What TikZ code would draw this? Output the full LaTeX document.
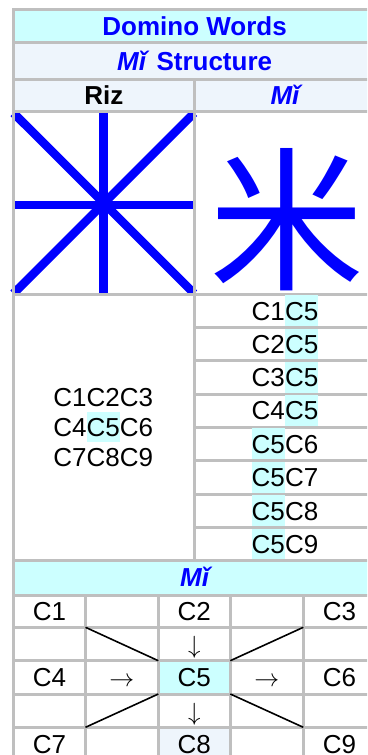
\documentclass[tikz,border=0pt]{standalone}
\usepackage{fontspec}
\setmainfont{Liberation Sans}
\newfontfamily\cjkfont{Noto Sans CJK SC}
\definecolor{cyanbg}{HTML}{CCFFFF}
\definecolor{lightbg}{HTML}{EEF5FC}
\definecolor{gridgray}{HTML}{BFBFBF}
\newcommand\cellstrut{\rule[-6pt]{0pt}{30.6pt}}
\newcommand\hlcyan[1]{{\setlength{\fboxsep}{0pt}\colorbox{cyanbg}{\cellstrut#1}}}
\begin{document}
\begin{tikzpicture}[x=1pt,y=-1pt,
  gridline/.style={draw=gridgray, line width=3pt},
  cell/.style={inner sep=0pt, font=\fontsize{26}{30}\selectfont},
  titlecell/.style={inner sep=0pt, font=\fontsize{26}{30}\selectfont\bfseries, text=blue},
  starline/.style={draw=blue, line width=8.5pt},
  diagline/.style={draw=black, line width=1.6pt},
]
\useasboundingbox (0,0) rectangle (367,755);
\clip (0,0) rectangle (367,755);
\fill[white] (0,0) rectangle (367,755);
% backgrounds
\fill[cyanbg] (13.5,9.5) rectangle (375.8,42.5);
\fill[lightbg] (13.5,42.5) rectangle (375.8,111.5);
\fill[cyanbg] (13.5,560) rectangle (375.8,595);
\fill[cyanbg] (158.3,660.7) rectangle (230.3,694);
\fill[lightbg] (158.3,727.3) rectangle (230.3,760.7);
% star
\begin{scope}
\clip (10,111.5) rectangle (197.5,295);
\draw[starline] (13.5,113) -- (194.2,293.5);
\draw[starline] (194.2,113) -- (13.5,293.5);
\draw[starline] (103.5,113) -- (103.5,293.5);
\draw[starline] (14,205) -- (193,205);
\end{scope}
% glyph
\node[inner sep=0pt, anchor=base, text=blue, font=\cjkfont\fontsize{155}{155}\selectfont] (glyph) at (286.5,278.5) {米};
% grid lines
\foreach \y in {9.5,42.5,79.5,111.5,294,560,595,627.3,660.7,694,727.3,760.7}
  \draw[gridline] (12,\y) -- (377.3,\y);
\foreach \y in {327.5,360.7,394,427,460.5,494,527.5}
  \draw[gridline] (194.2,\y) -- (377.3,\y);
\draw[gridline] (13.5,8) -- (13.5,762);
\draw[gridline] (375.8,8) -- (375.8,762);
\draw[gridline] (194.2,79.5) -- (194.2,560);
\foreach \x in {85.5,158.3,230.3,303.3}
  \draw[gridline] (\x,595) -- (\x,762);
% header texts
\node[titlecell] (title) at (194.6,26) {\cellstrut Domino Words};
\node[titlecell] (subtitle) at (194.6,61) {\cellstrut\textit{Mǐ} Structure};
\node[titlecell, text=black] (hdrriz) at (103.9,95.5) {\cellstrut Riz};
\node[titlecell, font=\fontsize{26}{30}\selectfont\bfseries\itshape] (hdrmi) at (285,95.5) {\cellstrut Mǐ};
% left cell
\node[cell] (l1) at (103.3,397) {\cellstrut C1C2C3};
\node[cell] (l2) at (103.3,427) {\cellstrut C4\hlcyan{C5}C6};
\node[cell] (l3) at (103.3,457) {\cellstrut C7C8C9};
% right rows
\node[cell, anchor=east] (r1a) at (285,310.7) {\cellstrut C1};
\node[cell, anchor=west] (r1b) at (285,310.7) {\hlcyan{C5}};
\node[cell, anchor=east] (r2a) at (285,344.1) {\cellstrut C2};
\node[cell, anchor=west] (r2b) at (285,344.1) {\hlcyan{C5}};
\node[cell, anchor=east] (r3a) at (285,377.3) {\cellstrut C3};
\node[cell, anchor=west] (r3b) at (285,377.3) {\hlcyan{C5}};
\node[cell, anchor=east] (r4a) at (285,410.5) {\cellstrut C4};
\node[cell, anchor=west] (r4b) at (285,410.5) {\hlcyan{C5}};
\node[cell, anchor=east] (r5a) at (285,443.7) {\hlcyan{C5}};
\node[cell, anchor=west] (r5b) at (285,443.7) {\cellstrut C6};
\node[cell, anchor=east] (r6a) at (285,477.2) {\hlcyan{C5}};
\node[cell, anchor=west] (r6b) at (285,477.2) {\cellstrut C7};
\node[cell, anchor=east] (r7a) at (285,510.7) {\hlcyan{C5}};
\node[cell, anchor=west] (r7b) at (285,510.7) {\cellstrut C8};
\node[cell, anchor=east] (r8a) at (285,543.8) {\hlcyan{C5}};
\node[cell, anchor=west] (r8b) at (285,543.8) {\cellstrut C9};
% Mi header
\node[titlecell, font=\fontsize{26}{30}\selectfont\bfseries\itshape] (mihdr) at (194.6,577.5) {\cellstrut Mǐ};
% grid texts
\node[cell] (g11) at (49.5,611.2) {\cellstrut C1};
\node[cell] (g13) at (194.3,611.2) {\cellstrut C2};
\node[cell] (g15) at (339.5,611.2) {\cellstrut C3};
\node[cell] (g23) at (194.3,644) {\cellstrut $\downarrow$};
\node[cell] (g31) at (49.5,677.3) {\cellstrut C4};
\node[cell] (g32) at (121.9,677.3) {\cellstrut $\rightarrow$};
\node[cell] (g33) at (194.3,677.3) {\cellstrut C5};
\node[cell] (g34) at (266.8,677.3) {\cellstrut $\rightarrow$};
\node[cell] (g35) at (339.5,677.3) {\cellstrut C6};
\node[cell] (g43) at (194.3,710.7) {\cellstrut $\downarrow$};
\node[cell] (g51) at (49.5,744) {\cellstrut C7};
\node[cell] (g53) at (194.3,744) {\cellstrut C8};
\node[cell] (g55) at (339.5,744) {\cellstrut C9};
% diagonal connectors
\coordinate (a1) at (85.5,627.3);
\coordinate (a2) at (158.3,660.7);
\coordinate (a3) at (230.3,660.7);
\coordinate (a4) at (303.3,627.3);
\coordinate (b1) at (158.3,694);
\coordinate (b2) at (85.5,727.3);
\coordinate (b3) at (230.3,694);
\coordinate (b4) at (303.3,727.3);
\draw[diagline] (a1) -- (a2);
\draw[diagline] (a3) -- (a4);
\draw[diagline] (b1) -- (b2);
\draw[diagline] (b3) -- (b4);
\end{tikzpicture}
\end{document}
